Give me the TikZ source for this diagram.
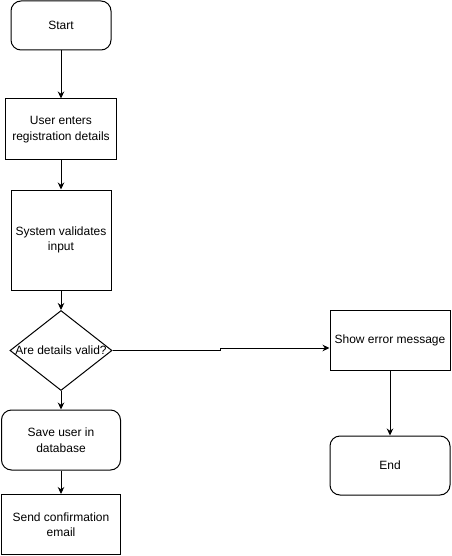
\documentclass[tikz,border=0pt]{standalone}
\usepackage{fontspec}
\setmainfont{Liberation Sans}
\usetikzlibrary{shapes.geometric,arrows.meta}
\begin{document}
\begin{tikzpicture}[x=1pt,y=-1pt,
  every node/.style={font=\fontsize{12}{15.5}\selectfont, inner sep=0pt, align=center},
  box/.style={draw, line width=1pt, rectangle},
  term/.style={box, rounded corners=10pt},
  decision/.style={draw, line width=1pt, diamond},
  arr/.style={draw, line width=1pt, -{Stealth[length=7pt,width=6.5pt]}}]
  \useasboundingbox (0,0) rectangle (451,556);

  % main column
  \node[term, minimum width=100pt, minimum height=49pt] (start) at (61,25.5) {Start};
  \node[box, minimum width=111pt, minimum height=61pt] (enter) at (61,129.5) {User enters\\registration details};
  \node[box, minimum width=100pt, minimum height=100pt] (validate) at (61,240) {System validates\\input};
  \node[decision, minimum width=102pt, minimum height=80pt] (check) at (61,350.5) {};
  \node (checktext) at (check.center) {Are details valid?};
  \node[term, minimum width=119pt, minimum height=60pt] (save) at (61,440) {Save user in\\database};
  \node[box, minimum width=119pt, minimum height=60pt] (send) at (61,524.5) {Send confirmation\\email};

  % error branch
  \node[box, minimum width=120pt, minimum height=60pt] (error) at (390,340) {Show error message};
  \node[term, minimum width=120pt, minimum height=59pt] (finish) at (390,465.5) {End};

  \coordinate (jogA) at (220,350.5);
  \coordinate (jogB) at (220,348);

  \draw[arr] (start) -- (enter);
  \draw[arr] (enter) -- (validate);
  \draw[arr] (validate) -- (check);
  \draw[arr] (check) -- (save);
  \draw[arr] (save) -- (send);
  \draw[arr] (check.east) -- (jogA) -- (jogB) -- (jogB -| error.west);
  \draw[arr] (error) -- (finish);
\end{tikzpicture}
\end{document}
